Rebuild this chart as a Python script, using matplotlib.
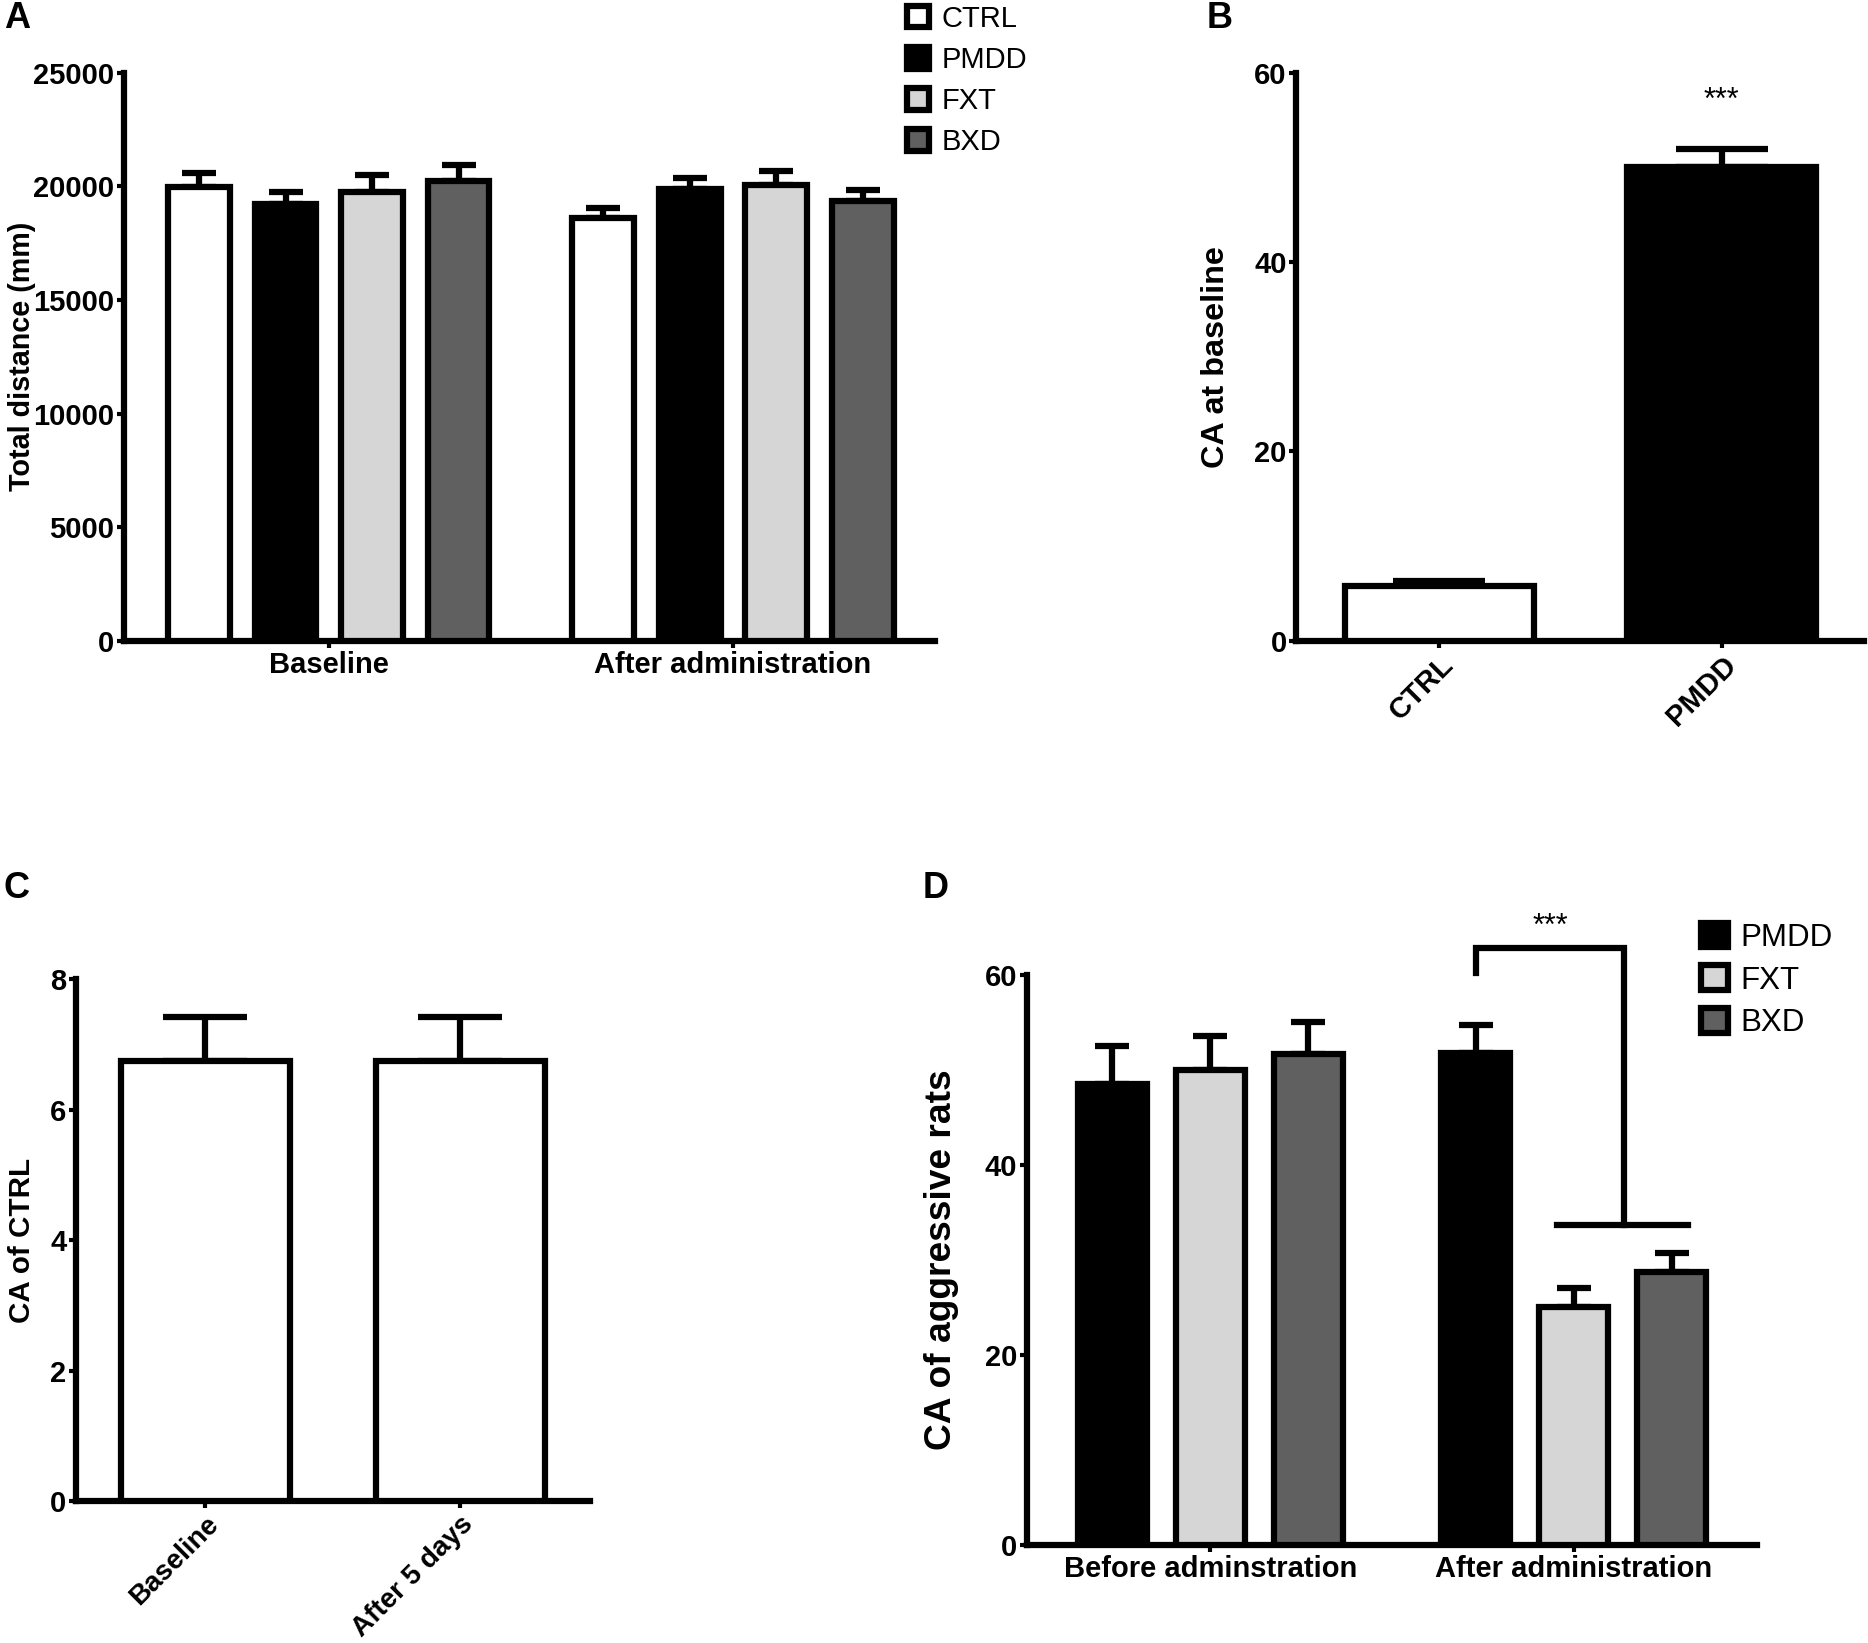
import matplotlib
matplotlib.use('Agg')
import matplotlib.pyplot as plt
import numpy as np
from matplotlib.patches import Patch

# Data
groups_a = ['Baseline', 'After administration']
series_a = ['CTRL', 'PMDD', 'FXT', 'BXD']
mean_a = [[19950, 19200, 19750, 20250], [18600, 19900, 20050, 19350]]
sem_a = [[650, 570, 750, 700], [450, 480, 620, 470]]

groups_b = ['CTRL', 'PMDD']
mean_b = [5.85, 50.0]
sem_b = [0.45, 1.9]

groups_c = ['Baseline', 'After 5 days']
mean_c = [6.74, 6.74]
sem_c = [0.68, 0.68]

groups_d = ['Before adminstration', 'After administration']
series_d = ['PMDD', 'FXT', 'BXD']
mean_d = [[48.5, 50.0, 51.7], [51.75, 25.0, 28.7]]
sem_d = [[4.0, 3.5, 3.3], [3.0, 2.1, 2.0]]

colors = {'CTRL': 'white', 'PMDD': 'black', 'FXT': '#d6d6d6', 'BXD': '#606060'}

TICKFONT = ['DejaVu Sans Condensed', 'Liberation Sans Narrow', 'Liberation Sans', 'DejaVu Sans']
LW = 4.5

plt.rcParams['font.family'] = ['Liberation Sans', 'DejaVu Sans']

fig = plt.figure(figsize=(18.68, 16.43), dpi=100)


def style_axes(ax, ylim, yticks):
    for s in ['top', 'right']:
        ax.spines[s].set_visible(False)
    for s in ['left', 'bottom']:
        ax.spines[s].set_linewidth(LW)
    ax.set_ylim(*ylim)
    ax.set_yticks(yticks)
    ax.tick_params(axis='both', direction='out', length=5, width=3, pad=2)
    for lab in ax.get_yticklabels():
        lab.set_family(TICKFONT)
        lab.set_fontweight('bold')
        lab.set_fontsize(21)


def bars(ax, x, h, err, color, width, capw):
    ax.bar(x, h, width, color=color, edgecolor='black', linewidth=LW, zorder=3)
    ax.errorbar(x, h, yerr=[np.zeros(len(np.atleast_1d(h))), err], fmt='none',
                ecolor='black', elinewidth=LW, capsize=capw, capthick=LW, zorder=2)


# Panel A
axA = fig.add_axes([0.0663, 0.6099, 0.4343, 0.3459])
xa = np.arange(len(groups_a))
offs = np.array([-1.5, -0.5, 0.5, 1.5]) * 0.214
for i, s in enumerate(series_a):
    h = [mean_a[g][i] for g in range(len(groups_a))]
    e = [sem_a[g][i] for g in range(len(groups_a))]
    bars(axA, xa + offs[i], h, e, colors[s], 0.153, 12)
axA.set_xlim(-0.507, 1.5)
style_axes(axA, (0, 25000), [0, 5000, 10000, 15000, 20000, 25000])
axA.set_xticks(xa)
axA.set_xticklabels(groups_a, family=TICKFONT, fontweight='bold', fontsize=21)
axA.set_ylabel('Total distance (mm)', fontsize=20.7, fontweight='bold')
axA.yaxis.set_label_coords(-0.108, 0.5)
handlesA = [Patch(facecolor=colors[s], edgecolor='black', linewidth=LW, label=s) for s in series_a]
fig.legend(handles=handlesA, loc='upper left', bbox_to_anchor=(0.4855, 0.997),
           frameon=False, handlelength=0.75, handleheight=0.75,
           handletextpad=0.45, labelspacing=0.45, borderpad=0, borderaxespad=0,
           prop={'family': ['Liberation Sans'], 'size': 21})

# Panel B
axB = fig.add_axes([0.694, 0.6099, 0.304, 0.3459])
xb = np.arange(len(groups_b))
bars(axB, xb, mean_b, sem_b, [colors[g] for g in groups_b], 0.67, 33)
axB.set_xlim(-0.507, 1.505)
style_axes(axB, (0, 60), [0, 20, 40, 60])
axB.set_xticks(xb)
axB.set_xticklabels(groups_b, family=TICKFONT, fontweight='bold', fontsize=21,
                    rotation=45, ha='right', rotation_mode='anchor')
axB.set_ylabel('CA at baseline', fontsize=23.3, fontweight='bold')
axB.yaxis.set_label_coords(-0.115, 0.5)
axB.text(xb[1], 57.0, '***', ha='center', va='center', fontsize=22)

# Panel C
axC = fig.add_axes([0.0408, 0.0863, 0.2749, 0.3177])
xc = np.arange(len(groups_c))
bars(axC, xc, mean_c, sem_c, 'white', 0.666, 30)
axC.set_xlim(-0.507, 1.507)
style_axes(axC, (0, 8), [0, 2, 4, 6, 8])
axC.set_xticks(xc)
axC.set_xticklabels(groups_c, family=TICKFONT, fontweight='bold', fontsize=20,
                    rotation=45, ha='right', rotation_mode='anchor')
axC.set_ylabel('CA of CTRL', fontsize=21.3, fontweight='bold')
axC.yaxis.set_label_coords(-0.078, 0.5)

# Panel D
axD = fig.add_axes([0.5497, 0.0595, 0.391, 0.3473])
xd = np.arange(len(groups_d))
offs_d = np.array([-1, 0, 1]) * 0.27
for i, s in enumerate(series_d):
    h = [mean_d[g][i] for g in range(len(groups_d))]
    e = [sem_d[g][i] for g in range(len(groups_d))]
    bars(axD, xd + offs_d[i], h, e, colors[s], 0.19, 12)
axD.set_xlim(-0.505, 1.505)
style_axes(axD, (0, 60), [0, 20, 40, 60])
axD.set_xticks(xd)
axD.set_xticklabels(groups_d, family=TICKFONT, fontweight='bold', fontsize=21)
axD.set_ylabel('CA of aggressive rats', fontsize=26.7, fontweight='bold')
axD.yaxis.set_label_coords(-0.093, 0.5)
# significance bracket
x_left = xd[1] + offs_d[0]
x_mid = xd[1] + 0.139
axD.plot([x_left, x_left, x_mid, x_mid], [60.2, 62.8, 62.8, 33.7], color='black',
         lw=LW, clip_on=False, solid_joinstyle='miter')
axD.plot([xd[1] + offs_d[1] - 0.045, xd[1] + offs_d[2] + 0.045], [33.7, 33.7], color='black',
         lw=LW, clip_on=False)
axD.text(0.935, 65.0, '***', ha='center', va='center', fontsize=22)
handlesD = [Patch(facecolor=colors[s], edgecolor='black', linewidth=LW, label=s) for s in series_d]
fig.legend(handles=handlesD, loc='upper left', bbox_to_anchor=(0.9107, 0.4385),
           frameon=False, handlelength=0.85, handleheight=0.85,
           handletextpad=0.4, labelspacing=0.4, borderpad=0, borderaxespad=0,
           prop={'family': ['Liberation Sans'], 'size': 22.5})

# panel letters
for lbl, x, y in [('A', 0.002, 0.989), ('B', 0.646, 0.989), ('C', 0.002, 0.459), ('D', 0.494, 0.459)]:
    fig.text(x, y, lbl, fontsize=26, fontweight='bold', ha='left', va='center')

fig.savefig('out.png', dpi=100)
